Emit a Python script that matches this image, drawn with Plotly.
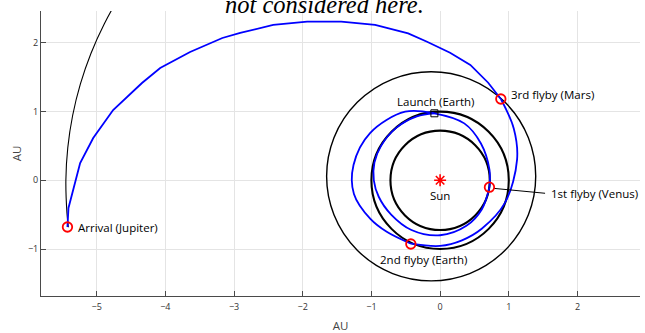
import numpy as np
import plotly.graph_objects as go

# ---------------- data (AU) ----------------
orbit_names = ["Venus", "Earth", "Mars"]
orbit_cx = [0.0, 0.0, -0.13]
orbit_cy = [0.0, 0.0, 0.058]
orbit_r = [0.723, 1.0, 1.522]
orbit_w = [2.1, 2.1, 1.4]

# Jupiter orbit arc, polar (deg, AU)
jup_theta = [145, 150, 155, 160, 165, 170, 175, 180, 185, 187.2]
jup_r = [5.36, 5.377, 5.393, 5.408, 5.421, 5.432, 5.441, 5.448, 5.453, 5.455]

# Trajectory legs, polar (deg, AU)
leg1_theta = [94.9, 110, 130, 150, 165, 180, 195, 215, 240, 270, 300, 325, 352]
leg1_r = [0.979, 0.99, 0.995, 0.995, 0.99, 0.965, 0.925, 0.87, 0.835, 0.80, 0.765, 0.74, 0.725]

leg2_theta = [-8, 12, 42, 67, 94.9, 117, 146, 170, 189, 209, 224, 245.3]
leg2_r = [0.725, 0.735, 0.80, 0.90, 0.979, 1.12, 1.23, 1.28, 1.27, 1.16, 1.08, 1.016]

leg3_theta = [245.3, 270, 290, 311, 341, 375, 395, 413.2]
leg3_r = [1.016, 0.955, 0.93, 0.93, 1.0, 1.16, 1.31, 1.477]

# Mars -> Jupiter leg (cartesian, AU)
leg4_x = [0.884, 0.70, 0.44, 0.145, -0.19, -0.465, -0.946, -1.44, -1.935, -2.43,
          -2.91, -3.17, -3.64, -4.075, -4.34, -4.76, -5.05, -5.24, -5.41, -5.425]
leg4_y = [1.183, 1.42, 1.68, 1.856, 2.016, 2.137, 2.261, 2.309, 2.309, 2.261,
          2.144, 2.071, 1.867, 1.634, 1.416, 1.023, 0.616, 0.252, -0.403, -0.68]

# Events
event_names = ["Launch (Earth)", "1st flyby (Venus)", "2nd flyby (Earth)",
               "3rd flyby (Mars)", "Arrival (Jupiter)"]
event_x = [-0.083, 0.718, -0.426, 0.884, -5.425]
event_y = [0.975, -0.10, -0.927, 1.183, -0.68]
label_x = [-0.06, 1.587, -0.24, 1.01, -5.30]
label_y = [1.15, -0.19, -1.146, 1.25, -0.69]
label_anchor = ["center", "left", "center", "left", "left"]

venus_leader_x = [0.776, 1.528]
venus_leader_y = [-0.117, -0.189]

sun_label = "Sun"
sun_label_xy = (0.0, -0.22)

x_ticks = [-5, -4, -3, -2, -1, 0, 1, 2]
y_ticks = [-1, 0, 1, 2]
x_range = [-5.81, 2.91]
y_range = [-1.684, 2.464]

title_text = "not considered here."


def polar_xy(theta, r):
    t = np.radians(np.array(theta, dtype=float))
    r = np.array(r, dtype=float)
    return r * np.cos(t), r * np.sin(t)


fig = go.Figure()

# orbits as shapes
for cx, cy, r, w in zip(orbit_cx, orbit_cy, orbit_r, orbit_w):
    fig.add_shape(type="circle", xref="x", yref="y",
                  x0=cx - r, x1=cx + r, y0=cy - r, y1=cy + r,
                  line=dict(color="black", width=w), layer="between")

jx, jy = polar_xy(jup_theta, jup_r)
fig.add_trace(go.Scatter(x=jx, y=jy, mode="lines", line=dict(color="black", width=1.1,
                         shape="spline"), hoverinfo="skip"))

for th, rr in [(leg1_theta, leg1_r), (leg2_theta, leg2_r), (leg3_theta, leg3_r)]:
    lx, ly = polar_xy(th, rr)
    fig.add_trace(go.Scatter(x=lx, y=ly, mode="lines",
                             line=dict(color="#0000ff", width=1.8, shape="spline", smoothing=1.0),
                             hoverinfo="skip"))
fig.add_trace(go.Scatter(x=leg4_x, y=leg4_y, mode="lines",
                         line=dict(color="#0000ff", width=1.8), hoverinfo="skip"))

# Venus leader line
fig.add_trace(go.Scatter(x=venus_leader_x, y=venus_leader_y, mode="lines",
                         line=dict(color="black", width=1), hoverinfo="skip"))

# Sun
fig.add_trace(go.Scatter(x=[0], y=[0], mode="markers",
                         marker=dict(symbol="asterisk-open", size=10, color="#ff0000",
                                     line=dict(color="#ff0000", width=1.6)),
                         hoverinfo="skip"))

# launch square
fig.add_trace(go.Scatter(x=event_x[:1], y=event_y[:1], mode="markers",
                         marker=dict(symbol="square-open", size=7, color="black",
                                     line=dict(color="black", width=1)),
                         hoverinfo="skip"))
# flyby circles
fig.add_trace(go.Scatter(x=event_x[1:], y=event_y[1:], mode="markers",
                         marker=dict(symbol="circle-open", size=9.5, color="red",
                                     line=dict(color="red", width=1.8)),
                         hoverinfo="skip"))

label_font = dict(family="Open Sans", size=11.5, color="black")
for name, lx, ly, anc in zip(event_names, label_x, label_y, label_anchor):
    fig.add_annotation(x=lx, y=ly, text=name, showarrow=False, xanchor=anc,
                       yanchor="middle", font=label_font)
fig.add_annotation(x=sun_label_xy[0], y=sun_label_xy[1], text=sun_label, showarrow=False,
                   xanchor="center", yanchor="middle", font=label_font)

axis_common = dict(showline=True, linecolor="#4a4a4a", linewidth=1, ticks="inside",
                   ticklen=5, tickcolor="#4a4a4a", showgrid=True, gridcolor="#e4e4e4",
                   gridwidth=1, zeroline=False, automargin=False,
                   tickfont=dict(family="Open Sans", size=9, color="#333333"),
                   title_font=dict(family="Open Sans", size=11.5, color="#444444"))

fig.update_xaxes(range=x_range, tickvals=x_ticks, title_text="AU", title_standoff=13,
                 ticklabelstandoff=2, **axis_common)
fig.update_yaxes(range=y_range, tickvals=y_ticks, title_text="AU", title_standoff=3,
                 **axis_common)

fig.update_layout(
    width=645, height=333,
    margin=dict(l=40.5, r=5, t=11, b=37, autoexpand=False),
    paper_bgcolor="white", plot_bgcolor="white",
    showlegend=False,
    title=dict(text="<i>" + title_text + "</i>", x=0.503, xref="container", xanchor="center",
               y=0.988, yref="container", yanchor="middle",
               font=dict(family="Liberation Serif", size=24.5, color="black")),
)

fig.write_html("out.html")
